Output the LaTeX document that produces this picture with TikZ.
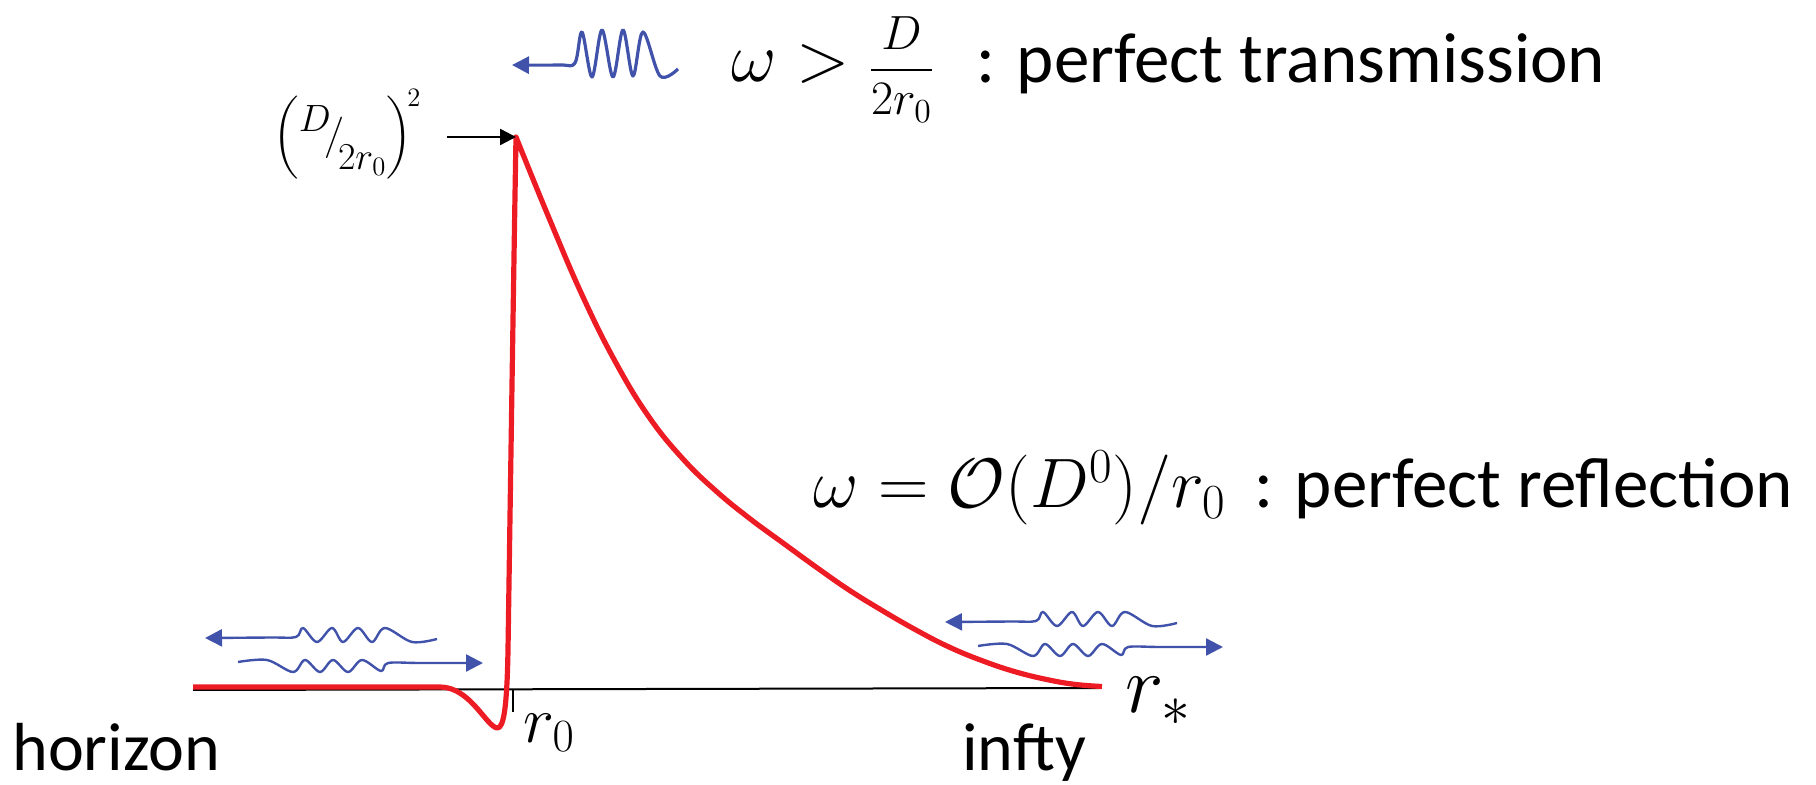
\RequirePackage{fix-cm}
\documentclass[tikz,border=0pt]{standalone}
\usepackage{amsmath}
\usepackage{graphicx}
\usepackage[no-math]{fontspec}
\setmainfont{Carlito}
\usetikzlibrary{arrows.meta}
\definecolor{wblue}{RGB}{64,82,170}
\definecolor{cred}{RGB}{237,28,36}
\tikzset{
  redcurve/.style={draw=cred, line width=2.6pt, line join=round, line cap=butt},
  axisline/.style={draw=black, line width=1pt},
  blackarrow/.style={draw=black, line width=1.2pt, -{Triangle[length=8pt,width=8pt]}},
  wavepen/.style={draw=wblue, line width=1.2pt, line join=round},
  wavetip/.style={-{Triangle[length=8.5pt,width=8.5pt]}},
  bigtxt/.style={inner sep=0pt, font=\fontsize{35.5}{42}\selectfont},
  labtxt/.style={inner sep=0pt, font=\fontsize{34}{40}\selectfont},
  mth/.style={inner sep=0pt, font=\fontsize{35}{42}\selectfont},
  wavepair/.pic={
    \draw[wavepen, wavetip] plot[smooth, tension=0.55] coordinates {(437,639) (412,642) (385,628) (372,642) (358,628) (343,642) (332,628) (317,642) (303,628) (296,637) (270,637.5) (205,638)};
    \draw[wavepen, wavetip] plot[smooth, tension=0.55] coordinates {(238,662) (267,660) (293,672) (305,660) (320,672) (333,660) (348,672) (362,660) (381,671) (388,663) (420,663) (483,663)};
  }
}
\begin{document}
\begin{tikzpicture}[x=0.5pt,y=-0.5pt]
\useasboundingbox (0,0) rectangle (1816,785);

% axis and tick
\coordinate (axL) at (193,690);
\coordinate (axR) at (1100,688);
\draw[axisline] (axL) -- (axR);
\coordinate (tickT) at (513,690);
\coordinate (tickB) at (513,712);
\draw[axisline] (tickT) -- (tickB);

% potential curve
\coordinate (peak) at (516,137);
\draw[redcurve] (193,687) -- (440,687)
  .. controls (470,687) and (486,726) .. (497,728)
  .. controls (504,729) and (507,705) .. (508,650)
  .. controls (511,450) and (514,250) .. (peak)
  -- plot[smooth, tension=0.7] coordinates {(516,137) (549,218) (583,297) (616,363) (649,417) (683,459) (716,491) (749,518) (783,543) (816,567) (849,590) (883,611) (916,630) (949,647) (983,661) (1016,672) (1049,680) (1076,684.5) (1102,686.5)};

% peak label and arrow
\node[inner sep=0pt, anchor=base west, font=\fontsize{19}{22}\selectfont] (peaklbl) at (273,147.5)
  {$\left(\rule[-12.75pt]{0pt}{35pt}\raisebox{7.75pt}{$D$}\!\big/\!\raisebox{-11.25pt}{$2r_0$}\right)^{\!2}$};
\coordinate (arrS) at (447,137);
\draw[blackarrow] (arrS) -- (peak);

% transmitted wave packet
\draw[wavepen, line width=1.6pt, wavetip] plot[smooth, tension=0.55] coordinates {(678,69) (660,76) (643,32) (633,76) (623,30) (613,77) (602,30) (592,77) (582,32) (575,63) (560,65) (512,65)};

% reflected wave packets
\pic (wl) at (0,0) {wavepair};
\pic (wr) at (740,-16) {wavepair};

% texts
\node[mth, anchor=base west] (topmath) at (731,82) {$\omega > \mbox{\fontsize{24}{28}\selectfont$\dfrac{D}{2r_0}$}$};
\node[bigtxt, anchor=base west] (toptxt) at (976,83) {: perfect transmission};
\node[mth, anchor=base west] (botmath) at (813,508) {$\omega = \mathcal{O}(D^0)/r_0$};
\node[bigtxt, anchor=base west] (bottxt) at (1254,508) {: perfect reflection};

\node[labtxt, anchor=base west] (horizon) at (12,770) {horizon};
\node[labtxt, anchor=base west] (infty) at (962,770) {infty};
\node[inner sep=0pt, anchor=base west, font=\fontsize{33}{38}\selectfont] (rzero) at (523,742) {$r_0$};
\node[inner sep=0pt, anchor=base west, font=\fontsize{41}{48}\selectfont] (rstar) at (1125,713) {$r_*$};
\end{tikzpicture}
\end{document}
